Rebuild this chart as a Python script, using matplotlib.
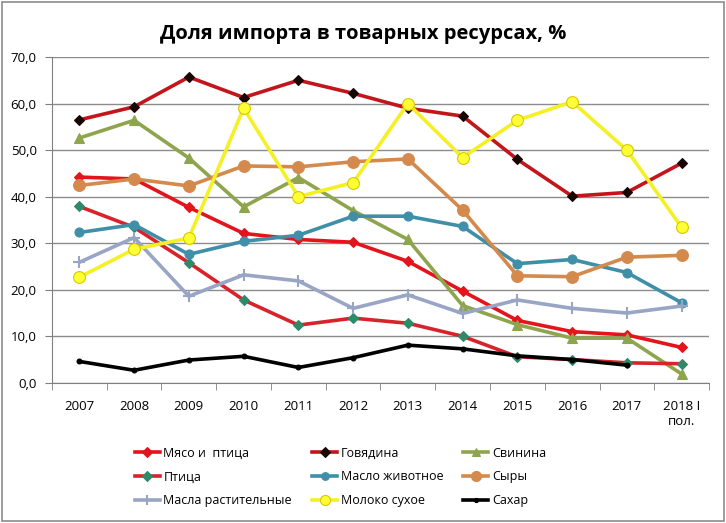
import matplotlib

matplotlib.use("Agg")
import matplotlib.pyplot as plt  # noqa: E402
from matplotlib.patches import Rectangle  # noqa: E402

plt.rcParams["font.family"] = ["Open Sans", "DejaVu Sans"]

years = ["2007", "2008", "2009", "2010", "2011", "2012", "2013", "2014", "2015",
         "2016", "2017", "2018 I\nпол."]

meat_poultry = [44.2, 43.8, 37.7, 32.1, 30.8, 30.2, 26.1, 19.7, 13.4, 11.0, 10.3, 7.6]
beef = [56.5, 59.3, 65.7, 61.3, 65.0, 62.2, 59.0, 57.3, 48.0, 40.1, 40.9, 47.2]
pork = [52.6, 56.4, 48.3, 37.8, 44.1, 37.0, 30.8, 16.6, 12.5, 9.6, 9.6, 1.9]
poultry = [37.9, 33.4, 25.8, 17.8, 12.4, 13.9, 12.8, 10.0, 5.6, 5.0, 4.3, 4.1]
butter = [32.3, 34.0, 27.6, 30.4, 31.7, 35.8, 35.8, 33.6, 25.6, 26.5, 23.7, 17.2]
cheese = [42.4, 43.8, 42.3, 46.6, 46.4, 47.5, 48.1, 37.1, 23.0, 22.8, 27.0, 27.4]
veg_oil = [25.9, 31.2, 18.6, 23.2, 21.9, 16.0, 18.9, 14.9, 17.8, 16.0, 15.0, 16.5]
milk_powder = [22.7, 28.7, 31.1, 59.0, 40.0, 43.0, 60.0, 48.4, 56.4, 60.4, 50.0, 33.4]
sugar = [4.6, 2.7, 4.9, 5.7, 3.3, 5.4, 8.1, 7.3, 5.8, 5.0, 3.8]

# label, values, line color, marker, marker face, marker edge, marker size
series = [
    ("Мясо и  птица", meat_poultry, "#e3141c", "D", "#e3141c", "#e3141c", 5.5),
    ("Говядина", beef, "#c3161c", "D", "#1a0505", "#1a0505", 5.5),
    ("Свинина", pork, "#8ea54e", "^", "#8ea54e", "#8ea54e", 7.5),
    ("Птица", poultry, "#d8232a", "D", "#2f8a6a", "#2f8a6a", 5.5),
    ("Масло животное", butter, "#3f8fa8", "o", "#3f8fa8", "#3f8fa8", 6.5),
    ("Сыры", cheese, "#d48a4c", "o", "#d48a4c", "#d48a4c", 8.5),
    ("Масла растительные", veg_oil, "#98a5c4", "+", "#98a5c4", "#98a5c4", 9),
    ("Молоко сухое", milk_powder, "#f5f026", "o", "#ffff33", "#d8c800", 8.5),
    ("Сахар", sugar, "#000000", "o", "#000000", "#000000", 3.5),
]

fig = plt.figure(figsize=(7.26, 5.23), dpi=100)
ax = fig.add_axes([0.0716, 0.268, 0.905, 0.623])

handles = []
for label, values, color, marker, face, edge, size in series:
    (line,) = ax.plot(range(len(values)), values, color=color, lw=2.6, marker=marker,
                      markerfacecolor=face, markeredgecolor=edge, markersize=size,
                      markeredgewidth=1.5 if marker == "+" else 0.8, label=label)
    handles.append(line)

ax.set_xlim(-0.5, len(years) - 0.5)
ax.set_ylim(0, 70)
ax.set_yticks(range(0, 71, 10))
ax.set_yticklabels([f"{v},0" for v in range(0, 71, 10)], fontsize=9.5)
ax.set_xticks(range(len(years)))
ax.set_xticklabels(years, fontsize=9.5)
ax.set_xticks([i - 0.5 for i in range(len(years) + 1)], minor=True)
ax.tick_params(axis="x", which="major", length=0, pad=12)
ax.tick_params(axis="x", which="minor", length=5, color="#808080")
ax.tick_params(axis="y", length=5, color="#808080", pad=6)
ax.yaxis.grid(True, color="#8c8c8c", lw=1)
ax.set_axisbelow(True)
for side in ("top", "right"):
    ax.spines[side].set_visible(False)
for side in ("left", "bottom"):
    ax.spines[side].set_color("#808080")

fig.suptitle("Доля импорта в товарных ресурсах, %", fontsize=14.5, fontweight="bold",
             y=0.955)

order = [0, 3, 6, 1, 4, 7, 2, 5, 8]
fig.legend([handles[i] for i in order], [series[i][0] for i in order], ncol=3,
           frameon=False, loc="center left", bbox_to_anchor=(0.17, 0.088), fontsize=9,
           handlelength=2.0, columnspacing=1.6, labelspacing=0.85, handletextpad=0.3,
           markerscale=0.85)

fig.patches.append(Rectangle((0.003, 0.004), 0.994, 0.992, transform=fig.transFigure,
                             fill=False, edgecolor="#8c8c8c", lw=1.2))

fig.savefig("out.png", dpi=100)
plt.close(fig)
